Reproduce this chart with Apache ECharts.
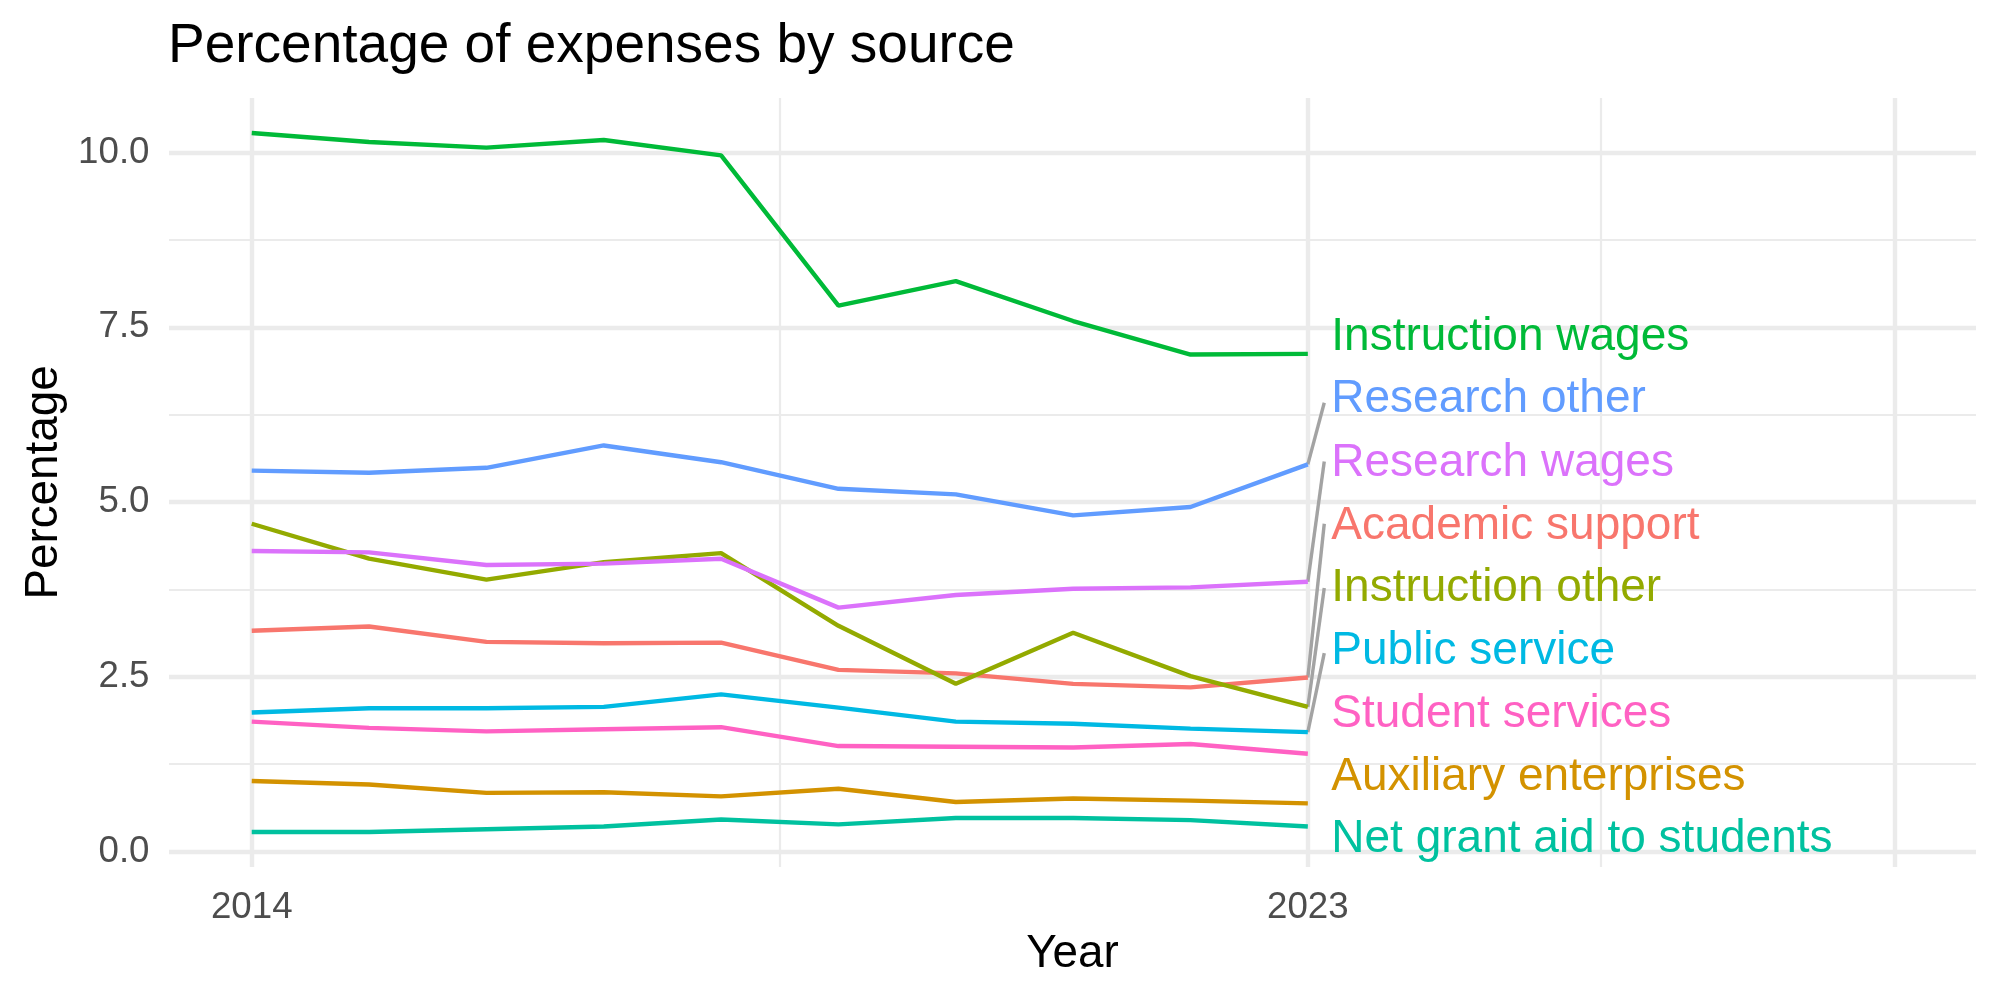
<!DOCTYPE html>
<html>
<head>
<meta charset="utf-8">
<title>Percentage of expenses by source</title>
<script src="https://cdn.jsdelivr.net/npm/echarts@6/dist/echarts.min.js"></script>
<style>
    html, body { margin: 0; padding: 0; background: #fff; }
    #chart { width: 2000px; height: 1000px; }
</style>
</head>
<body>
<div id="chart"></div>
<script>
// years and values
const years = [2014, 2015, 2016, 2017, 2018, 2019, 2020, 2021, 2022, 2023];

const academicSupport = [3.16, 3.22, 3.00, 2.98, 2.99, 2.60, 2.55, 2.40, 2.35, 2.49];
const auxiliaryEnterprises = [1.01, 0.96, 0.84, 0.85, 0.79, 0.90, 0.71, 0.76, 0.73, 0.69];
const instructionOther = [4.69, 4.19, 3.89, 4.14, 4.27, 3.23, 2.40, 3.13, 2.51, 2.07];
const instructionWages = [10.28, 10.15, 10.07, 10.18, 9.96, 7.81, 8.16, 7.59, 7.11, 7.12];
const netGrantAid = [0.28, 0.28, 0.32, 0.36, 0.46, 0.39, 0.48, 0.48, 0.45, 0.36];
const publicService = [1.99, 2.05, 2.05, 2.07, 2.25, 2.06, 1.86, 1.83, 1.76, 1.71];
const researchOther = [5.45, 5.42, 5.49, 5.81, 5.57, 5.19, 5.11, 4.81, 4.93, 5.54];
const researchWages = [4.30, 4.28, 4.10, 4.12, 4.19, 3.49, 3.67, 3.76, 3.78, 3.86];
const studentServices = [1.86, 1.77, 1.72, 1.75, 1.78, 1.51, 1.50, 1.49, 1.54, 1.40];

const sourceNames = ['Academic support', 'Auxiliary enterprises', 'Instruction other',
    'Instruction wages', 'Net grant aid to students', 'Public service',
    'Research other', 'Research wages', 'Student services'];
const sourceValues = [academicSupport, auxiliaryEnterprises, instructionOther,
    instructionWages, netGrantAid, publicService, researchOther, researchWages,
    studentServices];
const sourceColors = ['#F8766D', '#D39200', '#93AA00', '#00BA38', '#00C19F',
    '#00B9E3', '#619CFF', '#DB72FB', '#FF61C3'];

// repelled label positions (y in percentage units), same order as sourceNames
const labelX = 2023.20;
const labelY = [4.66, 1.07, 3.76, 7.36, 0.17, 2.86, 6.47, 5.56, 1.97];
// connector segments: end x and end y (null = no segment)
const segmentX = 2023.14;
const segmentEndY = [4.69, null, 3.77, null, null, 2.84, 6.42, 5.58, null];

// tick labels
const yTicks = [0, 2.5, 5, 7.5, 10];
const yMinorTicks = [1.25, 3.75, 6.25, 8.75];
const xTicks = [2014, 2023, 2028];
const xTickLabels = ['2014', '2023', ''];
const xMinorTicks = [2018.5, 2025.5];

const xMin = 2013.295, xMax = 2028.694;
const yMin = -0.22, yMax = 10.78;

const font = '"Liberation Sans", Arial, sans-serif';
const gridColor = '#EBEBEB';

const chart = echarts.init(document.getElementById('chart'), null, { renderer: 'canvas' });

const series = [];

// connector segments first so they sit under the lines
sourceNames.forEach((name, i) => {
    if (segmentEndY[i] === null) return;
    const vals = sourceValues[i];
    series.push({
        type: 'line',
        silent: true,
        symbol: 'none',
        z: 1,
        data: [[years[years.length - 1], vals[vals.length - 1]], [segmentX, segmentEndY[i]]],
        lineStyle: { color: '#A3A3A3', width: 3.4 },
    });
});

sourceNames.forEach((name, i) => {
    series.push({
        name: name,
        type: 'line',
        symbol: 'none',
        silent: true,
        z: 2,
        data: years.map((y, k) => [y, sourceValues[i][k]]),
        lineStyle: { color: sourceColors[i], width: 4.4 },
    });
});

series.push({
    type: 'scatter',
    silent: true,
    symbolSize: 0,
    z: 3,
    itemStyle: { opacity: 1 },
    data: sourceNames.map((name, i) => ({
        value: [labelX, labelY[i]],
        name: name,
        label: { color: sourceColors[i] },
    })),
    label: {
        show: true,
        position: 'right',
        distance: 0,
        opacity: 1,
        formatter: (p) => p.name,
        fontFamily: font,
        fontSize: 46,
        lineHeight: 46,
    },
});

const hiddenAxisBits = {
    axisLine: { show: false },
    axisTick: { show: false },
    axisLabel: { show: false },
};

chart.setOption({
    animation: false,
    backgroundColor: '#ffffff',
    title: {
        text: 'Percentage of expenses by source',
        left: 168,
        top: 19,
        padding: 0,
        textStyle: {
            fontFamily: font, fontSize: 55, lineHeight: 55,
            fontWeight: 'normal', color: '#000000',
        },
    },
    grid: { left: 169, right: 24, top: 98, bottom: 133, containLabel: false },
    xAxis: [
        {
            type: 'value',
            min: xMin, max: xMax,
            name: 'Year',
            nameLocation: 'middle',
            nameGap: 64,
            nameTextStyle: { fontFamily: font, fontSize: 45.8, lineHeight: 46, color: '#000000' },
            axisLine: { show: false },
            axisTick: { show: false, customValues: xTicks },
            axisLabel: {
                customValues: xTicks,
                formatter: (v) => xTickLabels[xTicks.indexOf(v)] ?? '',
                fontFamily: font, fontSize: 36.7, lineHeight: 36.7,
                color: '#4D4D4D', margin: 23,
            },
            splitLine: { show: true, lineStyle: { color: gridColor, width: 4.4 } },
        },
        Object.assign({
            type: 'value',
            min: xMin, max: xMax,
            position: 'bottom',
            splitLine: { show: true, lineStyle: { color: gridColor, width: 2.2 } },
        }, hiddenAxisBits, { axisTick: { show: false, customValues: xMinorTicks } }),
    ],
    yAxis: [
        {
            type: 'value',
            min: yMin, max: yMax,
            name: 'Percentage',
            nameLocation: 'middle',
            nameRotate: 90,
            nameGap: 102,
            nameTextStyle: { fontFamily: font, fontSize: 45.8, lineHeight: 46, color: '#000000' },
            axisLine: { show: false },
            axisTick: { show: false, customValues: yTicks },
            axisLabel: {
                customValues: yTicks,
                formatter: (v) => v.toFixed(1),
                fontFamily: font, fontSize: 36.7, lineHeight: 36.7,
                color: '#4D4D4D', margin: 19.5,
            },
            splitLine: { show: true, lineStyle: { color: gridColor, width: 4.4 } },
        },
        Object.assign({
            type: 'value',
            min: yMin, max: yMax,
            position: 'left',
            splitLine: { show: true, lineStyle: { color: gridColor, width: 2.2 } },
        }, hiddenAxisBits, { axisTick: { show: false, customValues: yMinorTicks } }),
    ],
    series: series,
});
</script>
</body>
</html>
